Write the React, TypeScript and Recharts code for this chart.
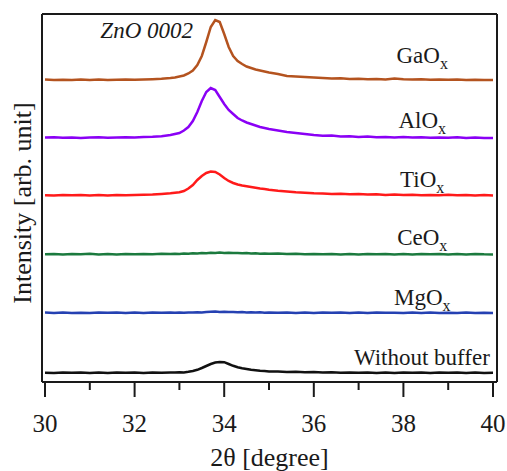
import React from "react";
import { LineChart, Line, XAxis, YAxis, ReferenceDot } from "recharts";

// 2θ grid (denser around the ZnO 0002 peak)
const twoTheta = [
  30.0, 30.2, 30.4, 30.6, 30.8, 31.0, 31.2, 31.4, 31.6, 31.8, 32.0, 32.2, 32.4, 32.6, 32.8,
  32.9, 33.0, 33.1, 33.2, 33.3, 33.4, 33.5, 33.6, 33.7, 33.8, 33.9, 34.0, 34.1, 34.2, 34.3, 34.4, 34.5, 34.6, 34.7, 34.8, 34.9, 35.0,
  35.2, 35.4, 35.6, 35.8, 36.0, 36.2, 36.4, 36.6, 36.8, 37.0, 37.2, 37.4, 37.6, 37.8, 38.0, 38.2, 38.4, 38.6, 38.8, 39.0, 39.2, 39.4, 39.6, 39.8, 40.0,
];

// intensities above each trace's own baseline (arb. unit)
const gaOx = [
  0.5, 0, 0.3, 0, 0.4, 0.1, 0.5, 0, 0.3, 0.6, 0.2, 0.5, 0.8, 1.2, 2.0,
  2.5, 3.5, 4.5, 6.5, 9.5, 15, 24, 38, 53, 60, 58, 46, 33, 24, 19, 16, 13.5, 12, 10.5, 9.5, 8.5, 7.5,
  6, 4, 3.5, 3, 2.5, 2, 1.5, 1.8, 1, 1.2, 0.8, 1.1, 0.6, 1.4, 0.7, 0.4, 0.8, 0.3, 0.6, 0.2, 0.5, 0, 0.3, 0.1, 0,
];
const alOx = [
  0.5, 0.8, 0.2, 0.6, 0, 0.4, 0.7, 0.2, 0.5, 0.8, 0.6, 1.0, 1.2, 1.8, 3.0,
  4, 5, 7.5, 11, 17, 26, 37, 46, 50, 48, 41, 34, 28, 24, 20, 17.5, 15.5, 14, 12.5, 11, 10, 9,
  7.5, 6, 5, 4, 3, 2.2, 2.5, 1.5, 1.8, 1, 1.4, 0.8, 1.1, 0.5, 1, 0.4, 0.8, 0.2, 0.6, 0.3, 0.7, 0, 0.4, 0.1, 0,
];
const tiOx = [
  0.3, 0, 0.5, 0.2, 0.6, 0, 0.4, 0.1, 0.5, 0.3, 0.6, 0.8, 1.0, 1.6, 2.3,
  2.8, 3.3, 4.5, 7, 10.5, 15.5, 19.5, 22.5, 24, 23.5, 21, 17.5, 14.5, 12.5, 11, 10, 9.3, 8.5, 7.8, 7, 6.5, 5.8,
  4.8, 4, 3.2, 2.8, 2.2, 2, 1.5, 1.8, 1.2, 1.4, 0.9, 1.2, 0.6, 1, 0.4, 0.8, 0.2, 0.6, 0.3, 0.7, 0.2, 0.5, 0, 0.4, 0,
];
const ceOx = [
  0.2, 0.6, 0, 0.5, 0.2, 0.7, 0.1, 0.4, 0, 0.5, 0.2, 0.6, 0.3, 0.7, 0.4,
  0.8, 0.6, 1.0, 0.8, 1.2, 1.0, 1.5, 1.3, 1.8, 1.5, 1.9, 1.6, 1.8, 1.4, 1.6, 1.2, 1.4, 1.0, 1.2, 0.8, 1.1, 0.7,
  0.9, 0.5, 0.8, 0.3, 0.6, 0.2, 0.5, 0.1, 0.4, 0, 0.5, 0.2, 0.6, 0.1, 0.4, 0, 0.5, 0.2, 0.6, 0.1, 0.4, 0, 0.5, 0.2, 0.1,
];
const mgOx = [
  0.4, 0, 0.5, 0.1, 0.3, 0, 0.6, 0.2, 0.4, 0, 0.5, 0.1, 0.4, 0.2, 0.6,
  0.3, 0.5, 0.2, 0.6, 0.4, 0.8, 0.6, 1.0, 1.2, 1.4, 1.1, 1.3, 0.9, 1.1, 0.7, 0.9, 0.5, 0.8, 0.4, 0.7, 0.3, 0.6,
  0.2, 0.5, 0.1, 0.4, 0, 0.5, 0.2, 0.6, 0.1, 0.4, 0, 0.5, 0.2, 0.3, 0, 0.5, 0.1, 0.4, 0, 0.3, 0.1, 0.5, 0, 0.3, 0.1,
];
const noBuffer = [
  0.3, 0, 0.5, 0.2, 0.6, 0.1, 0.4, 0, 0.5, 0.2, 0.4, 0.1, 0.5, 0.3, 0.6,
  0.4, 0.8, 0.6, 1.2, 2, 3.2, 5, 7, 9, 10.5, 11, 10.8, 9, 7.2, 5.8, 4.8, 4, 3.2, 2.8, 2.2, 2, 1.6,
  1.4, 1, 1.2, 0.7, 1, 0.5, 0.8, 0.3, 0.6, 0.2, 0.5, 0.1, 0.4, 0, 0.5, 0.2, 0.6, 0.1, 0.4, 0.2, 0.5, 0.1, 0.4, 0, 0.3,
];

const sampleNames = ["GaOx", "AlOx", "TiOx", "CeOx", "MgOx", "Without buffer"];
const sampleKeys = ["ga", "al", "ti", "ce", "mg", "none"];
const sampleColors = ["#b4531f", "#8a00f5", "#ff1a1a", "#1b7a3e", "#2541b2", "#111111"];
// vertical stacking offset of each trace
const offsets = [302, 244, 186.5, 127.5, 69, 9];
const series = [gaOx, alOx, tiOx, ceOx, mgOx, noBuffer];

const xTicks = [30, 31, 32, 33, 34, 35, 36, 37, 38, 39, 40];

const data = twoTheta.map((t, i) => {
  const row: Record<string, number> = { t };
  sampleKeys.forEach((k, s) => {
    row[k] = series[s][i] + offsets[s];
  });
  return row;
});

// where the sample names sit (2θ, intensity)
const labelX = [38.42, 38.42, 38.42, 38.42, 38.42, 39.93];
const labelY = [319, 254, 195, 137, 77, 17];

const FONT = "'Liberation Serif', 'Times New Roman', serif";
const INK = "#1a1a1a";
const txt = { fontFamily: FONT, fill: INK };

const XTick = (props: any) => {
  const { x, y, payload } = props;
  const major = payload.value % 2 === 0;
  return (
    <g>
      <line x1={x} x2={x} y1={y} y2={y + (major ? 15 : 8)} stroke={INK} strokeWidth={2} />
      {major && (
        <text x={x} y={y + 50} textAnchor="middle" fontSize={25} style={txt}>
          {payload.value}
        </text>
      )}
    </g>
  );
};

const sampleLabel = (name: string, anchor: string) => (props: any) => {
  const { x, y } = props.viewBox;
  const sub = name.endsWith("Ox");
  return (
    <text x={x} y={y} textAnchor={anchor} fontSize={23} style={txt}>
      {sub ? name.slice(0, -1) : name}
      {sub && (
        <tspan fontSize={16} dy={6}>
          x
        </tspan>
      )}
    </text>
  );
};

export default function App() {
  return (
    <div style={{ position: "absolute", left: 0, top: 0, fontFamily: FONT }}>
      <LineChart
        width={507}
        height={471}
        data={data}
        margin={{ top: 13, right: 9, bottom: 0, left: 41 }}
      >
        <XAxis
          dataKey="t"
          type="number"
          domain={[29.933, 40.089]}
          allowDataOverflow
          ticks={xTicks}
          interval={0}
          tickSize={0}
          tickMargin={0}
          tickLine={false}
          tick={<XTick />}
          height={89}
          axisLine={{ stroke: INK, strokeWidth: 2 }}
          label={(p: any) => (
            <text
              x={p.viewBox.x + p.viewBox.width / 2}
              y={466}
              textAnchor="middle"
              fontSize={26}
              style={txt}
            >
              2θ [degree]
            </text>
          )}
        />
        <XAxis
          xAxisId="top"
          orientation="top"
          dataKey="t"
          type="number"
          domain={[29.933, 40.089]}
          allowDataOverflow
          height={1}
          tick={false}
          tickLine={false}
          axisLine={{ stroke: INK, strokeWidth: 2 }}
        />
        <YAxis
          type="number"
          domain={[0, 368]}
          allowDataOverflow
          width={1}
          tick={false}
          tickLine={false}
          axisLine={{ stroke: INK, strokeWidth: 2 }}
          label={(p: any) => {
            const cx = 31;
            const cy = p.viewBox.y + p.viewBox.height / 2 + 5;
            return (
              <text
                x={cx}
                y={cy}
                transform={`rotate(-90, ${cx}, ${cy})`}
                textAnchor="middle"
                fontSize={26}
                style={txt}
              >
                Intensity [arb. unit]
              </text>
            );
          }}
        />
        <YAxis
          yAxisId="right"
          orientation="right"
          type="number"
          domain={[0, 368]}
          width={1}
          tick={false}
          tickLine={false}
          axisLine={{ stroke: INK, strokeWidth: 2 }}
        />
        {sampleKeys.map((k, s) => (
          <Line
            key={k}
            dataKey={k}
            type="linear"
            stroke={sampleColors[s]}
            strokeWidth={2.5}
            dot={false}
            isAnimationActive={false}
          />
        ))}
        {sampleNames.map((name, s) => (
          <ReferenceDot
            key={name}
            x={labelX[s]}
            y={labelY[s]}
            r={0}
            fill="none"
            stroke="none"
            label={sampleLabel(name, s === 5 ? "end" : "middle")}
          />
        ))}
        <ReferenceDot
          x={32.27}
          y={344}
          r={0}
          fill="none"
          stroke="none"
          label={(p: any) => (
            <text
              x={p.viewBox.x}
              y={p.viewBox.y}
              textAnchor="middle"
              fontSize={23}
              fontStyle="italic"
              style={txt}
            >
              ZnO 0002
            </text>
          )}
        />
      </LineChart>
    </div>
  );
}
